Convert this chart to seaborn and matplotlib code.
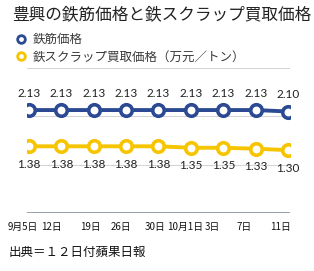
import matplotlib
matplotlib.use('Agg')
import matplotlib.pyplot as plt
import matplotlib.transforms as mtransforms
import seaborn as sns
from matplotlib.lines import Line2D

# ---- data ----
dates = ['9月5日', '12日', '19日', '26日', '30日', '10月1日', '3日', '7日', '11日']
rebar = [2.13, 2.13, 2.13, 2.13, 2.13, 2.13, 2.13, 2.13, 2.10]
scrap = [1.38, 1.38, 1.38, 1.38, 1.38, 1.35, 1.35, 1.33, 1.30]
series_names = ['鉄筋価格', '鉄スクラップ買取価格（万元／トン）']
title = '豊興の鉄筋価格と鉄スクラップ買取価格'
source = '出典＝１２日付蘋果日報'

blue = '#2C4A93'
yellow = '#F6C500'

sns.set_theme(style='white')
plt.rcParams['font.family'] = ['Noto Sans CJK JP', 'DejaVu Sans']

W, H = 314, 271
fig = plt.figure(figsize=(W / 100, H / 100), dpi=100)
ax = fig.add_axes([27 / W, 1 - 213 / H, 263 / W, 145 / H])

x = list(range(len(dates)))
for vals, c, off in [(rebar, blue, 12), (scrap, yellow, -13)]:
    sns.lineplot(x=x, y=vals, ax=ax, color=c, linewidth=2.8, marker='o',
                 markersize=8.3, markerfacecolor='white', markeredgecolor=c,
                 markeredgewidth=2.6, legend=False, zorder=3)
    for xi, v in zip(x, vals):
        ax.annotate(f'{v:.2f}', (xi, v), xytext=(0, off), textcoords='offset points',
                    ha='center', va='center', fontsize=8.5, family='Lato',
                    color='#222222')

ax.set_xlim(-0.06, 8.06)
ax.set_ylim(0, 3)
ax.set_yticks([0, 1, 2, 3])
ax.set_yticklabels([])
ax.set_xticks(x)
ax.set_xticklabels(dates, fontsize=7, color='#111111')
ax.tick_params(axis='x', length=0, pad=6.5)
ax.tick_params(axis='y', length=0)
ax.yaxis.grid(True, color='#d4d4d4', linewidth=0.75)
ax.xaxis.grid(False)
for s in ax.spines.values():
    s.set_visible(False)
ax.axhline(0, color='#7d8594', linewidth=1.1, zorder=2)
ax.set_xlabel('')
ax.set_ylabel('')

# nudge tick labels horizontally as in the reference layout (pixels)
shifts = [-6, -10, -3, -5, -3, -6, -11, -12, -8]
for lab, dx in zip(ax.get_xticklabels(), shifts):
    lab.set_transform(lab.get_transform() + mtransforms.ScaledTranslation(dx / 100, 0, fig.dpi_scale_trans))

handles = [Line2D([], [], ls='none', marker='o', ms=5.5, mfc='white', mec=c, mew=2.0)
           for c in (blue, yellow)]
fig.legend(handles, series_names, loc='upper left', bbox_to_anchor=(15.0 / W, 1 - 33 / H),
           frameon=False, fontsize=9, handlelength=1.0, handletextpad=0.4,
           labelspacing=0.35, borderpad=0, borderaxespad=0, labelcolor='#3a3a3a')

fig.text(12 / W, 1 - 15 / H, title, fontsize=12, va='center', ha='left', color='#222222')
fig.text(9 / W, 1 - 252 / H, source, fontsize=9, va='center', ha='left', color='#111111')

fig.savefig('out.png', dpi=100)
